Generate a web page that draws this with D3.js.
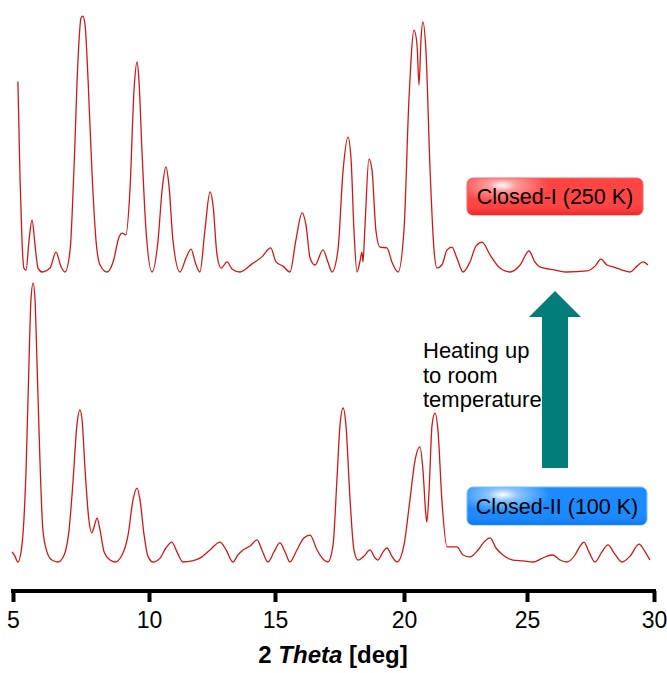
<!DOCTYPE html>
<html>
<head>
<meta charset="UTF-8">
<title>XRD patterns</title>
<script src="https://d3js.org/d3.v7.min.js"></script>
<style>
  body { margin: 0; padding: 0; background: #fff; }
  svg { display: block; font-family: "Liberation Sans", Arial, sans-serif; }
</style>
</head>
<body>
<div id="chart"></div>
<script>
// 2-theta positions (deg) and intensities (a.u., 0 = baseline)
var topTheta = [5.18, 5.22, 5.26, 5.33, 5.40, 5.48, 5.59, 5.70, 5.81, 5.92, 6.07, 6.36, 6.58, 6.76, 6.91,
  7.10, 7.24, 7.39, 7.50, 7.57, 7.65, 7.76, 7.90, 8.05, 8.20, 8.46, 8.68, 8.90, 9.01, 9.15, 9.30, 9.45,
  9.56, 9.63, 9.74, 9.89, 10.12, 10.36, 10.52, 10.67, 10.79, 10.95, 11.23, 11.47, 11.67, 11.83, 12.02,
  12.22, 12.42, 12.54, 12.70, 12.86, 13.10, 13.29, 13.61, 14.09, 14.48, 14.83, 15.04, 15.31, 15.58,
  15.81, 16.05, 16.20, 16.36, 16.55, 16.86, 17.05, 17.21, 17.44, 17.64, 17.83, 17.95, 18.06, 18.18, 18.29,
  18.37, 18.41, 18.49, 18.64, 18.76, 18.91, 19.07, 19.34, 19.53, 19.77, 20.00, 20.20, 20.41, 20.53,
  20.61, 20.69, 20.77, 20.89, 21.06, 21.22, 21.34, 21.54, 21.75, 21.95, 22.15, 22.40, 22.68, 22.93,
  23.17, 23.50, 23.90, 24.31, 24.72, 25.08, 25.31, 25.51, 26.10, 26.57, 27.36, 27.68, 27.91, 28.15,
  28.39, 28.74, 29.06, 29.33, 29.57, 29.76];
var topIntensity = [68, 50.7, 32.9, 11.4, 1.4, 0.7, 11.4, 18.6, 9.6, 1.4, 0, 1.4, 7.1, 2.1, 0,
  7.9, 36.4, 75.7, 90.7, 91.4, 88.2, 68.6, 36.4, 11.4, 2.5, 0, 3.6, 12.5, 13.9, 13.2, 29.3, 65,
  75, 68.6, 43.6, 15, 0, 11.4, 29.3, 37.5, 31.1, 11.4, 0, 5, 8.2, 3.6, 0,
  15, 28.6, 23.9, 6.1, 1.4, 3.6, 1.1, 0, 2.9, 5.4, 8.6, 3.6, 2.1, 0,
  11.4, 21.1, 16.8, 5, 2.5, 7.9, 3.6, 0, 7.9, 36.4, 48.2, 40, 15, 0, 3.6,
  7.1, 3.6, 16.8, 40.4, 36.4, 15, 8.9, 8.6, 3.6, 0, 15, 61.4, 86.4, 81.1,
  66.8, 82.9, 89.3, 79.3, 36.4, 7.9, 1.4, 2.5, 7.9, 8.9, 5, 0, 3.6, 9.3,
  10.7, 6.1, 1.4, 0, 2.5, 7.5, 3.6, 1.8, 0.7, 0, 0.4, 2.1, 4.6, 2.5,
  1.8, 0.7, 0, 2.1, 3.6, 2.5];

var bottomTheta = [4.97, 5.07, 5.18, 5.33, 5.48, 5.59, 5.66, 5.74, 5.81, 5.88, 5.99, 6.10, 6.25, 6.43,
  6.65, 6.88, 7.06, 7.21, 7.35, 7.46, 7.54, 7.65, 7.79, 7.90, 7.98, 8.09, 8.20, 8.35, 8.57, 8.75, 9.01,
  9.23, 9.41, 9.56, 9.67, 9.82, 9.96, 10.16, 10.44, 10.67, 10.91, 11.11, 11.35, 11.71, 12.02, 12.42,
  12.82, 13.06, 13.33, 13.53, 13.73, 14.01, 14.29, 14.48, 14.72, 14.96, 15.19, 15.39, 15.58, 15.85,
  16.12, 16.36, 16.63, 16.90, 17.05, 17.25, 17.40, 17.52, 17.64, 17.75, 17.91, 18.06, 18.22, 18.45,
  18.68, 18.88, 18.99, 19.19, 19.34, 19.53, 19.73, 20.00, 20.24, 20.45, 20.65, 20.77, 20.89, 20.93,
  21.02, 21.14, 21.26, 21.38, 21.54, 21.75, 21.95, 22.15, 22.40, 22.68, 23.01, 23.25, 23.50, 23.74,
  24.02, 24.43, 24.84, 25.24, 25.55, 25.79, 26.02, 26.30, 26.57, 26.89, 27.09, 27.24, 27.44, 27.68,
  27.95, 28.19, 28.43, 28.74, 29.06, 29.41, 29.65, 29.84];
var bottomIntensity = [3.6, 2.1, 0, 6.1, 32.9, 72.1, 93.6, 99.6, 93.6, 72.1, 36.4, 11.4, 3.6, 0.7,
  0, 2.5, 11.4, 29.3, 48.9, 54.3, 50.7, 32.9, 15, 10.4, 12.5, 15.7, 11.4, 3.6, 0.7, 0, 2.5,
  9.6, 22.1, 26.4, 22.1, 9.6, 2.1, 0, 1.4, 5, 7.1, 3.6, 0, 0.4, 1.4, 4.3,
  7.1, 4.3, 0, 2.5, 4.3, 5.7, 7.9, 4.3, 0, 3.6, 6.8, 3.6, 0, 4.3,
  8.6, 9.6, 4.3, 0.7, 0, 6.1, 29.3, 48.9, 55, 48.9, 22.1, 4.3, 0.7, 2.1,
  4.3, 1.4, 0.7, 3.6, 5, 2.1, 0, 6.1, 22.1, 36.4, 41.1, 32.9, 16.8, 14.3,
  25.7, 48.9, 53.2, 47.1, 22.1, 5.4, 5.4, 5.4, 2.5, 1.8, 4.3, 7.1, 8.6, 5,
  2.5, 0.7, 0.4, 0, 1.1, 2.1, 2.5, 0.7, 0, 2.5, 5.7, 7.1, 3.6, 0,
  3.6, 6.1, 3.2, 0, 2.1, 6.4, 3.6, 0.7];

var xTicks = [5, 10, 15, 20, 25, 30];
var labelTop = "Closed-I (250 K)";
var labelBottom = "Closed-II (100 K)";
var noteLines = ["Heating up", "to room", "temperature"];

var W = 667, H = 673;
var svg = d3.select('#chart').append('svg').attr('width', W).attr('height', H);

// scales (tick marks in the figure are not quite evenly spaced)
var x = d3.scaleLinear().domain(xTicks).range([13, 149, 275, 404, 527, 654]);
var yTop = d3.scaleLinear().domain([0, 100]).range([272, -8]);
var yBottom = d3.scaleLinear().domain([0, 100]).range([562, 282]);

function drawPattern(thetas, vals, y) {
    var data = thetas.map((t, i) => [t, vals[i]]);
    var line = d3.line()
        .x(d => x(d[0]))
        .y(d => y(d[1]))
        .curve(d3.curveMonotoneX);
    svg.append('path')
        .datum(data)
        .attr('fill', 'none')
        .attr('stroke', '#d01818')
        .attr('stroke-width', 1.3)
        .attr('stroke-linejoin', 'round')
        .attr('d', line);
}
drawPattern(topTheta, topIntensity, yTop);
drawPattern(bottomTheta, bottomIntensity, yBottom);

// x axis
var axis = svg.append('g').attr('transform', 'translate(0,591)');
axis.call(d3.axisBottom(x).tickValues(xTicks).tickSize(11).tickPadding(10).tickSizeOuter(0));
axis.select('.domain').attr('stroke', '#000').attr('stroke-width', 4)
    .attr('d', 'M' + (x(5) - 2) + ',0H' + (x(30) + 2));
axis.selectAll('.tick line').attr('stroke', '#000').attr('stroke-width', 4);
axis.selectAll('.tick text').attr('fill', '#000')
    .style('font-size', '23px').style('font-family', '"Liberation Sans", Arial, sans-serif');

var title = svg.append('text')
    .attr('x', 333).attr('y', 663)
    .attr('text-anchor', 'middle')
    .style('font-size', '24px').style('font-weight', 'bold');
title.append('tspan').text('2 ');
title.append('tspan').style('font-style', 'italic').text('Theta');
title.append('tspan').text(' [deg]');

// glossy label boxes
var defs = svg.append('defs');
function gloss(id, base, light, dark) {
    var g = defs.append('radialGradient').attr('id', id)
        .attr('cx', '0.2').attr('cy', '0.2').attr('r', '0.6')
        .attr('gradientTransform', 'translate(0.2,0.2) scale(0.55,1) translate(-0.2,-0.2)');
    g.append('stop').attr('offset', '0').attr('stop-color', '#ffffff');
    g.append('stop').attr('offset', '0.25').attr('stop-color', light);
    g.append('stop').attr('offset', '0.8').attr('stop-color', base);
    g.append('stop').attr('offset', '1').attr('stop-color', base);
    var e = defs.append('linearGradient').attr('id', id + 'Edge')
        .attr('x1', 0).attr('y1', 0).attr('x2', 0).attr('y2', 1);
    e.append('stop').attr('offset', '0').attr('stop-color', base).attr('stop-opacity', 0);
    e.append('stop').attr('offset', '0.7').attr('stop-color', base).attr('stop-opacity', 0);
    e.append('stop').attr('offset', '1').attr('stop-color', dark).attr('stop-opacity', 0.7);
}
gloss('redGloss', '#ff4444', '#ff9a9a', '#e01818');
gloss('blueGloss', '#1c8bff', '#8cc6ff', '#0a6ee0');

function labelBox(x0, y0, w, h, id, stroke, txt) {
    svg.append('rect').attr('x', x0).attr('y', y0).attr('width', w).attr('height', h)
        .attr('rx', 6).attr('fill', 'url(#' + id + ')')
        .attr('stroke', stroke).attr('stroke-width', 1);
    svg.append('rect').attr('x', x0).attr('y', y0).attr('width', w).attr('height', h)
        .attr('rx', 6).attr('fill', 'url(#' + id + 'Edge)');
    svg.append('text').attr('x', x0 + w / 2).attr('y', y0 + h / 2 + 7.5)
        .attr('text-anchor', 'middle').style('font-size', '21.5px').attr('fill', '#000')
        .text(txt);
}
labelBox(467, 178, 176, 37, 'redGloss', '#f06a6a', labelTop);
labelBox(467, 487, 180, 38, 'blueGloss', '#7cc0ff', labelBottom);

// heating arrow
var arrow = [[542, 468], [542, 317], [529, 317], [555, 291], [581, 317], [568, 317], [568, 468]];
svg.append('path')
    .attr('d', d3.line()(arrow) + 'Z')
    .attr('fill', '#037d79');

var note = svg.append('text').attr('x', 423).attr('y', 358).style('font-size', '22px').attr('fill', '#000');
noteLines.forEach((t, i) => {
    note.append('tspan').attr('x', 423).attr('dy', i === 0 ? 0 : 24.5).text(t);
});
</script>
</body>
</html>
